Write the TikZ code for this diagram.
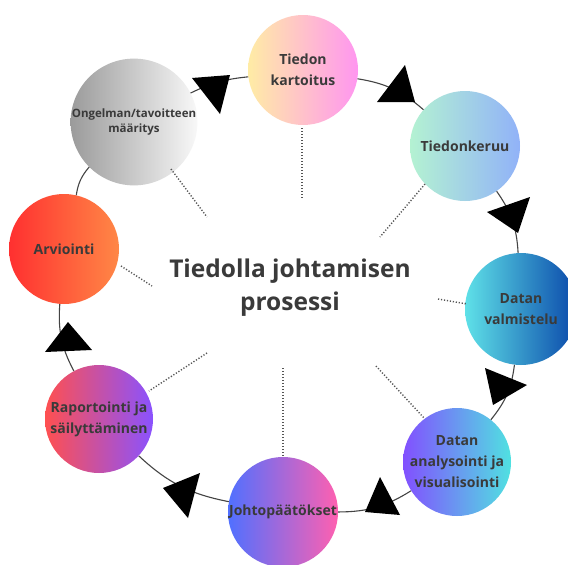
\documentclass[tikz,border=0pt]{standalone}
\usepackage{fontspec}
\setmainfont{Open Sans}
\definecolor{txt}{HTML}{3A3A3A}
\definecolor{lin}{HTML}{444444}
\definecolor{dotc}{HTML}{555555}
\begin{document}
\begin{tikzpicture}[x=1pt,y=-1pt,
  circ/.style={circle, inner sep=0pt, align=center, text=txt,
    font=\bfseries\fontsize{14}{21}\selectfont},
  conn/.style={draw=lin, line width=1.1pt, bend left=16},
  dotl/.style={draw=dotc, line width=1.4pt, dash pattern=on 1.2pt off 1.8pt},
  tri/.style={fill=black}]
\useasboundingbox (0,0) rectangle (568,565);
\fill[white] (0,0) rectangle (568,565);
% nodes
\node[circ, minimum size=104pt, left color={rgb,255:red,155;green,155;blue,155}, right color={rgb,255:red,248;green,248;blue,248},
  font=\bfseries\fontsize{11.5}{15}\selectfont] (ong) at (134,122) {Ongelman/tavoitteen\\määritys};
\node[circ, minimum size=110pt, left color={rgb,255:red,255;green,236;blue,165}, right color={rgb,255:red,255;green,150;blue,240}] (tie) at (303,70) {Tiedon\\kartoitus};
\node[circ, minimum size=110pt, left color={rgb,255:red,180;green,242;blue,210}, right color={rgb,255:red,145;green,178;blue,248}] (ker) at (465,146) {Tiedonkeruu};
\node[circ, minimum size=110pt, left color={rgb,255:red,255;green,48;blue,48}, right color={rgb,255:red,255;green,135;blue,70}] (arv) at (64,249) {Arviointi};
\node[circ, minimum size=112pt, left color={rgb,255:red,95;green,225;blue,232}, right color={rgb,255:red,10;green,72;blue,170}] (val) at (521,309) {Datan\\valmistelu};
\node[circ, minimum size=108pt, left color={rgb,255:red,255;green,80;blue,80}, right color={rgb,255:red,138;green,82;blue,255}] (rap) at (99,419) {Raportointi ja\\säilyttäminen};
\node[circ, minimum size=108pt, left color={rgb,255:red,130;green,80;blue,255}, right color={rgb,255:red,80;green,225;blue,225}] (ana) at (457,462) {Datan\\analysointi ja\\visualisointi};
\node[circ, minimum size=110pt, left color={rgb,255:red,80;green,112;blue,255}, right color={rgb,255:red,255;green,96;blue,176}] (joh) at (283,512) {Johtopäätökset};
% center text
\node[text=txt, align=center, font=\bfseries\fontsize{24.5}{33}\selectfont] (mid) at (290,288) {Tiedolla johtamisen\\prosessi};
% connectors
\draw[conn, bend left=10] (ong) to (tie);
\draw[conn] (tie) to (ker);
\draw[conn] (ker) to (val);
\draw[conn] (val) to (ana);
\draw[conn] (ana) to (joh);
\draw[conn] (joh) to (rap);
\draw[conn] (rap) to (arv);
\draw[conn] (arv) to (ong);
% triangles
\fill[tri] (192,78) -- (230,75) -- (220,114) -- cycle;
\fill[tri] (405,65) -- (377,102) -- (415,102) -- cycle;
\fill[tri] (487,212) -- (530,197) -- (518,233) -- cycle;
\fill[tri] (485,368) -- (527,385) -- (493,405) -- cycle;
\fill[tri] (380,477) -- (365,512) -- (400,515) -- cycle;
\fill[tri] (163,488) -- (200,473) -- (188,518) -- cycle;
\fill[tri] (68,322) -- (45,352) -- (92,350) -- cycle;
% dotted radial lines
\coordinate (d1a) at (302,128); \coordinate (d1b) at (302,198);
\coordinate (d2a) at (171,169); \coordinate (d2b) at (207,217);
\coordinate (d3a) at (425,184); \coordinate (d3b) at (380,237);
\coordinate (d4a) at (121,266); \coordinate (d4b) at (152,286);
\coordinate (d5a) at (438,299); \coordinate (d5b) at (467,304);
\coordinate (d6a) at (207,353); \coordinate (d6b) at (149,391);
\coordinate (d7a) at (283,368); \coordinate (d7b) at (283,456);
\coordinate (d8a) at (376,366); \coordinate (d8b) at (424,418);
\draw[dotl] (d1a) -- (d1b);
\draw[dotl] (d2a) -- (d2b);
\draw[dotl] (d3a) -- (d3b);
\draw[dotl] (d4a) -- (d4b);
\draw[dotl] (d5a) -- (d5b);
\draw[dotl] (d6a) -- (d6b);
\draw[dotl] (d7a) -- (d7b);
\draw[dotl] (d8a) -- (d8b);
\end{tikzpicture}
\end{document}
